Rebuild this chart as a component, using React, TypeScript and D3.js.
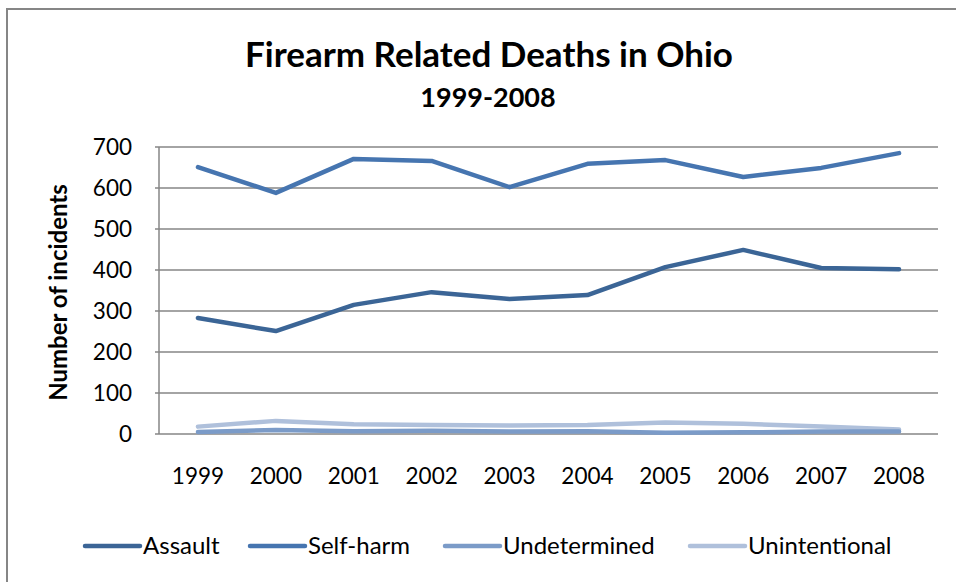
import React from "react";
import * as d3 from "d3";

const years = ["1999","2000","2001","2002","2003","2004","2005","2006","2007","2008"];
const assault = [283, 251, 315, 346, 329, 339, 407, 449, 405, 402];
const selfHarm = [651, 588, 671, 666, 602, 659, 668, 627, 649, 685];
const undetermined = [5, 10, 7, 8, 6, 7, 3, 4, 6, 6];
const unintentional = [18, 32, 24, 22, 21, 22, 28, 25, 18, 11];
const yTicks = [0, 100, 200, 300, 400, 500, 600, 700];
const seriesNames = ["Assault", "Self-harm", "Undetermined", "Unintentional"];
const seriesColors = ["#3B6596", "#4675B0", "#7B9BC8", "#AFC0DB"];

const FONT = "Lato, 'Open Sans', sans-serif";

export default function App() {
  const W = 956, H = 582;
  const left = 159, right = 938, top = 147, bottom = 434;
  const x = d3.scaleBand<string>().domain(years).range([left, right]);
  const y = d3.scaleLinear().domain([0, 700]).range([bottom, top]);
  const data = [assault, selfHarm, undetermined, unintentional];
  const line = d3.line<number>()
    .x((_, i) => (x(years[i]) as number) + x.bandwidth() / 2)
    .y(d => y(d));
  const order = [3, 2, 0, 1];
  const legendX = [85, 250, 445, 690];
  return (
    <svg width={W} height={H} style={{ position: "absolute", left: 0, top: 0, background: "#fff" }}>
      <rect x={7} y={9} width={W + 10} height={H + 10} fill="#fff" stroke="#868686" strokeWidth={2} />
      <text x={489} y={67} textAnchor="middle" fontFamily={FONT} fontWeight="bold" fontSize={35} fill="#000">Firearm Related Deaths in Ohio</text>
      <text x={488} y={107} textAnchor="middle" fontFamily={FONT} fontWeight="bold" fontSize={27} fill="#000">1999-2008</text>
      {yTicks.map(t => (
        <g key={t}>
          <line x1={left} x2={right} y1={y(t)} y2={y(t)} stroke="#868686" strokeWidth={1.5} />
          <line x1={left - 4} x2={left} y1={y(t)} y2={y(t)} stroke="#868686" strokeWidth={1.5} />
          <text x={left - 27} y={y(t)} dy="0.35em" textAnchor="end" fontFamily={FONT} fontSize={22.5} fill="#000">{t}</text>
        </g>
      ))}
      <line x1={left} x2={left} y1={top} y2={bottom} stroke="#868686" strokeWidth={1.5} />
      {years.map(yr => (
        <text key={yr} x={(x(yr) as number) + x.bandwidth() / 2} y={476} dy="0.35em" textAnchor="middle" fontFamily={FONT} fontSize={22.5} fill="#000">{yr}</text>
      ))}
      <text transform={`translate(67,${(top + bottom) / 2 + 2}) rotate(-90)`} textAnchor="middle" fontFamily={FONT} fontWeight="bold" fontSize={24} fill="#000">Number of incidents</text>
      {order.map(i => (
        <path key={i} d={line(data[i]) || ""} fill="none" stroke={seriesColors[i]} strokeWidth={4.5} strokeLinecap="round" strokeLinejoin="round" />
      ))}
      {seriesNames.map((n, i) => (
        <g key={n}>
          <line x1={legendX[i]} x2={legendX[i] + 55} y1={546} y2={546} stroke={seriesColors[i]} strokeWidth={4.5} strokeLinecap="round" />
          <text x={legendX[i] + 58} y={546} dy="0.35em" fontFamily={FONT} fontSize={24} fill="#000">{n}</text>
        </g>
      ))}
    </svg>
  );
}
